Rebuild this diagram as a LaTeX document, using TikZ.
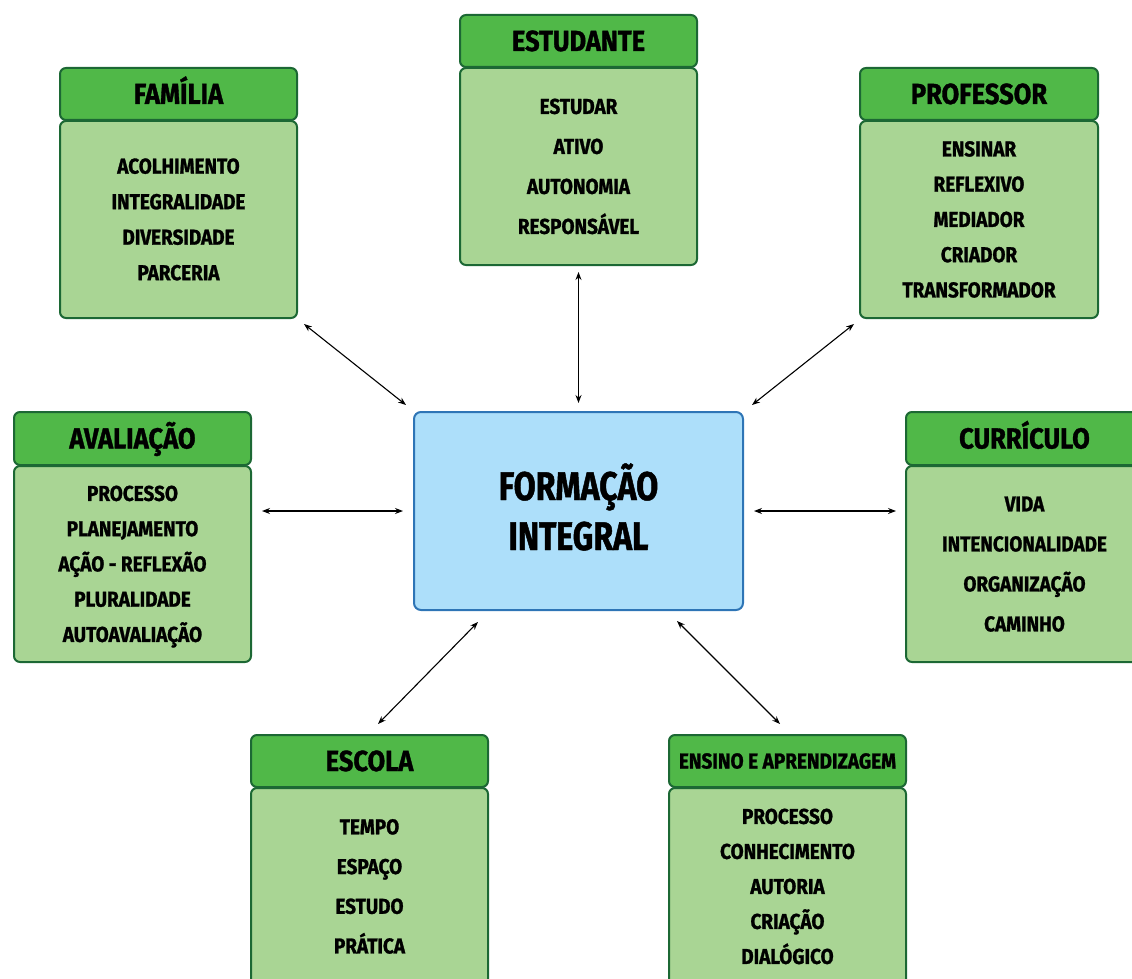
\documentclass[tikz,border=0pt]{standalone}
\usepackage{fontspec}
\newfontfamily\cf{Fira Sans}[FakeStretch=0.88, FakeBold=1.2]
\newfontfamily\cfn{Fira Sans}[FakeStretch=0.8, FakeBold=1.2]
\usetikzlibrary{arrows.meta}
\definecolor{hgreen}{RGB}{80,184,72}
\definecolor{bgreen}{RGB}{169,213,148}
\definecolor{dgreen}{RGB}{28,104,52}
\definecolor{cfill}{RGB}{173,223,250}
\definecolor{cdraw}{RGB}{46,117,182}
\newcommand\bl[1]{\smash{#1}}
\begin{document}
\begin{tikzpicture}[x=1pt,y=-1pt,
  hdr/.style={draw=dgreen, fill=hgreen, line width=2pt, rounded corners=6pt,
    minimum width=237pt, minimum height=52pt, inner sep=0pt, anchor=north west,
    font=\cf\bfseries\fontsize{29}{30}\selectfont, text height=20pt, text depth=0pt},
  body/.style={draw=dgreen, fill=bgreen, line width=2pt, rounded corners=6pt,
    minimum width=237pt, inner sep=0pt, anchor=north west},
  btext/.style={align=center, inner sep=0pt, font=\cf\bfseries\fontsize{21.5}{#1}\selectfont},
  biarrow/.style={{Stealth[length=8pt,width=6pt]}-{Stealth[length=8pt,width=6pt]}, line width=1.1pt, black}]
\useasboundingbox (0,0) rectangle (1132,979);

% centre
\node[draw=cdraw, fill=cfill, line width=2pt, rounded corners=7pt, minimum width=329pt, minimum height=198pt,
  anchor=north west, inner sep=0pt] (c) at (413,411) {};
\node[align=center, inner sep=0pt, font=\cfn\bfseries\fontsize{40}{50}\selectfont] (ct) at ([yshift=-14pt]c.center) {\bl{FORMAÇÃO}\\\bl{INTEGRAL}};

% FAMILIA
\node[hdr] (famh) at (59,67) {FAMÍLIA};
\node[body, minimum height=197pt] (famb) at (59,120) {};
\node[btext=35.5] (famt) at ([yshift=-7.4pt]famb.center) {\bl{ACOLHIMENTO}\\\bl{INTEGRALIDADE}\\\bl{DIVERSIDADE}\\\bl{PARCERIA}};

% ESTUDANTE
\node[hdr] (esth) at (459,14) {ESTUDANTE};
\node[body, minimum height=197pt] (estb) at (459,67) {};
\node[btext=40] (estt) at ([yshift=-7.4pt]estb.center) {\bl{ESTUDAR}\\\bl{ATIVO}\\\bl{AUTONOMIA}\\\bl{RESPONSÁVEL}};

% PROFESSOR
\node[hdr, minimum width=238pt] (profh) at (859,67) {PROFESSOR};
\node[body, minimum width=238pt, minimum height=197pt] (profb) at (859,120) {};
\node[btext=35.25] (proft) at ([yshift=-7.4pt]profb.center) {\bl{ENSINAR}\\\bl{REFLEXIVO}\\\bl{MEDIADOR}\\\bl{CRIADOR}\\\bl{TRANSFORMADOR}};

% AVALIACAO
\node[hdr, minimum height=53pt] (avalh) at (13,411) {AVALIAÇÃO};
\node[body, minimum height=196pt] (avalb) at (13,465) {};
\node[btext=35.25] (avalt) at ([yshift=-7.4pt]avalb.center) {\bl{PROCESSO}\\\bl{PLANEJAMENTO}\\\bl{AÇÃO - REFLEXÃO}\\\bl{PLURALIDADE}\\\bl{AUTOAVALIAÇÃO}};

% CURRICULO
\node[hdr, minimum height=53pt] (curh) at (905,411) {CURRÍCULO};
\node[body, minimum height=196pt] (curb) at (905,465) {};
\node[btext=40] (curt) at ([yshift=-7.4pt]curb.center) {\bl{VIDA}\\\bl{INTENCIONALIDADE}\\\bl{ORGANIZAÇÃO}\\\bl{CAMINHO}};

% ESCOLA
\node[hdr] (esch) at (250,734) {ESCOLA};
\node[body, minimum height=197pt] (escb) at (250,787) {};
\node[btext=39.7] (esct) at ([yshift=-7.4pt]escb.center) {\bl{TEMPO}\\\bl{ESPAÇO}\\\bl{ESTUDO}\\\bl{PRÁTICA}};

% ENSINO E APRENDIZAGEM
\node[hdr, font=\cf\bfseries\fontsize{21.6}{23}\selectfont, text height=15pt] (ensh) at (668,734) {ENSINO E APRENDIZAGEM};
\node[body, minimum height=197pt] (ensb) at (668,787) {};
\node[btext=35] (enst) at ([yshift=-7.4pt]ensb.center) {\bl{PROCESSO}\\\bl{CONHECIMENTO}\\\bl{AUTORIA}\\\bl{CRIAÇÃO}\\\bl{DIALÓGICO}};

% arrows
\draw[biarrow] ([shift={(-7,-6)}]c.north west) -- ([shift={(6,5)}]famb.south east);
\draw[biarrow] ([shift={(0,-8)}]c.north) -- ([shift={(0,6)}]estb.south);
\draw[biarrow] ([shift={(8,-6)}]c.north east) -- ([shift={(-5,5)}]profb.south west);
\draw[biarrow] ([shift={(-10,0)}]c.west) -- ([shift={(10,0)}]avalb.east |- c.west);
\draw[biarrow] ([shift={(10,0)}]c.east) -- ([shift={(-9,0)}]curb.west |- c.east);
\draw[biarrow] ([shift={(65,11)}]c.south west) -- ([shift={(8.5,-10)}]esch.north);
\draw[biarrow] ([shift={(-67,10)}]c.south east) -- ([shift={(-7.5,-10)}]ensh.north);
\end{tikzpicture}
\end{document}
